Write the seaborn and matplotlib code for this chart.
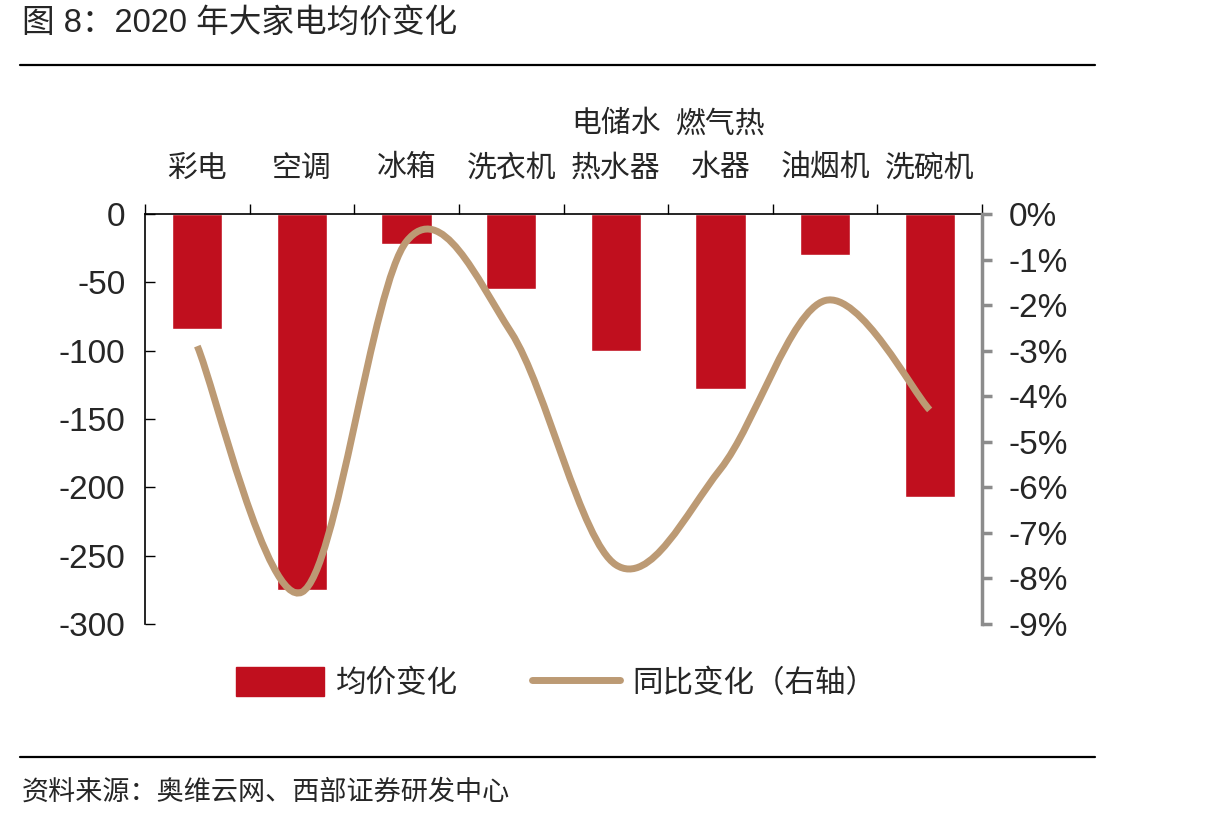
import numpy as np
import matplotlib
matplotlib.use('Agg')
import matplotlib.pyplot as plt
import seaborn as sns
from matplotlib.path import Path
from matplotlib.patches import PathPatch, Patch
from matplotlib.lines import Line2D

# Data
categories = ['彩电', '空调', '冰箱', '洗衣机', '电储水\n热水器', '燃气热\n水器', '油烟机', '洗碗机']
avg_price_change = [-84, -275, -22, -55, -100, -128, -30, -207]
yoy_change_pct = [-2.9, -8.3, -0.6, -2.6, -7.7, -5.6, -1.9, -4.3]
left_ticks = [0, -50, -100, -150, -200, -250, -300]
right_ticks = [0, -1, -2, -3, -4, -5, -6, -7, -8, -9]

bar_color = '#C00F1E'
line_color = '#BC9A74'

sns.set_style('white')
plt.rcParams['font.family'] = ['Liberation Sans', 'Noto Sans CJK SC']

fig = plt.figure(figsize=(12.15, 8.22), dpi=100)
ax = fig.add_axes([145 / 1215, 1 - 624 / 822, (982 - 145) / 1215, 410 / 822])

sns.barplot(x=list(range(len(categories))), y=avg_price_change, color=bar_color,
            width=0.48, saturation=1, ax=ax, native_scale=True)
ax.set_xlim(-0.5, len(categories) - 0.5)
ax.set_ylim(-300, 0)
ax.set_yticks(left_ticks)
ax.set_yticklabels([str(t) for t in left_ticks], fontsize=24)
ax.set_xlabel('')
ax.set_ylabel('')

# category labels on top, boundary ticks
ax.xaxis.tick_top()
ax.set_xticks(range(len(categories)))
ax.set_xticklabels(categories, fontsize=21.5, family=['Noto Sans CJK SC'], linespacing=1.55)
ax.tick_params(axis='x', which='major', length=0, pad=22)
ax.set_xticks(np.arange(-0.5, len(categories)), minor=True)
ax.tick_params(axis='x', which='minor', direction='out', length=7, width=1, color='black', top=True)
ax.tick_params(axis='y', direction='in', length=7, width=1, color='black', left=True, pad=14)
for s in ['bottom', 'right']:
    ax.spines[s].set_visible(False)
for s in ['top', 'left']:
    ax.spines[s].set_color('black')
    ax.spines[s].set_linewidth(1.2)

# right axis with smoothed line
ax2 = ax.twinx()
ax2.set_ylim(-9, 0)
ax2.set_yticks(right_ticks)
ax2.set_yticklabels([f'{t}%' for t in right_ticks], fontsize=24)
ax2.tick_params(axis='y', direction='out', length=7, width=2.5, color='#8C8C8C', right=True, pad=12)
for s in ['top', 'left', 'bottom']:
    ax2.spines[s].set_visible(False)
ax2.spines['right'].set_color('#8C8C8C')
ax2.spines['right'].set_linewidth(2.5)
ax2.grid(False)

# Catmull-Rom style smoothing (like a spreadsheet "smoothed line")
xs = np.arange(len(yoy_change_pct), dtype=float)
ys = np.array(yoy_change_pct, dtype=float)
pts = np.column_stack([xs, ys])
verts = [pts[0]]
codes = [Path.MOVETO]
n = len(pts)
for i in range(n - 1):
    p0 = pts[i - 1] if i > 0 else pts[i]
    p1 = pts[i]
    p2 = pts[i + 1]
    p3 = pts[i + 2] if i + 2 < n else pts[i + 1]
    c1 = p1 + (p2 - p0) / 6
    c2 = p2 - (p3 - p1) / 6
    verts += [c1, c2, p2]
    codes += [Path.CURVE4] * 3
ax2.add_patch(PathPatch(Path(verts, codes), facecolor='none', edgecolor=line_color,
                        lw=5, capstyle='butt', zorder=3))

# legend
handles = [Patch(facecolor=bar_color, edgecolor=bar_color),
           Line2D([0], [0], color=line_color, lw=5, solid_capstyle='round')]
fig.legend(handles, ['均价变化', '同比变化（右轴）'], loc='center', bbox_to_anchor=(556 / 1215, 1 - 683 / 822),
           ncol=2, frameon=False, prop={'family': ['Noto Sans CJK SC'], 'size': 22},
           handlelength=2.9, handleheight=1.1, columnspacing=2.4, handletextpad=0.4)

# header / footer
fig.text(22 / 1215, 1 - 24 / 822, '图 8：2020 年大家电均价变化', fontsize=23.5, va='center', ha='left',
         family=['Liberation Sans', 'Noto Sans CJK SC'])
fig.add_artist(Line2D([20 / 1215, 1095 / 1215], [1 - 65 / 822] * 2, color='black', lw=1.6))
fig.add_artist(Line2D([20 / 1215, 1095 / 1215], [1 - 757 / 822] * 2, color='black', lw=1.6))
fig.text(22 / 1215, 1 - 792 / 822, '资料来源：奥维云网、西部证券研发中心', fontsize=19.5, va='center', ha='left',
         family=['Noto Sans CJK SC'])

fig.savefig('out.png', dpi=100)
